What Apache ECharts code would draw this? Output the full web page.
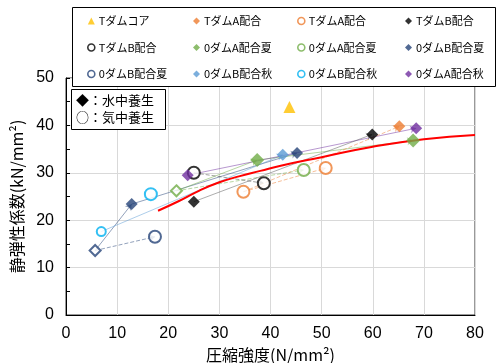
<!DOCTYPE html>
<html><head><meta charset="utf-8">
<script src="https://cdn.jsdelivr.net/npm/echarts@6/dist/echarts.min.js"></script>
<style>html,body{margin:0;padding:0;background:#fff}#chart{width:501px;height:363px}</style>
</head><body><div id="chart"></div>
<script>
// Compressive strength (N/mm2) vs. static modulus of elasticity (kN/mm2)
const xTicks = [0, 10, 20, 30, 40, 50, 60, 70, 80];
const yTicks = [0, 10, 20, 30, 40, 50];

// [compressive strength, static modulus]
const tCore        = [[43.7, 43.9]];
const tA_water     = [[65.2, 39.8]];
const tA_air       = [[34.7, 26.0], [50.8, 31.0]];
const tB_water     = [[25.0, 23.9], [59.9, 38.1]];
const tB_air       = [[25.0, 30.0], [38.7, 27.8]];
const oA_sum_water = [[37.4, 32.7], [67.9, 36.8]];
const oA_sum_air   = [[46.5, 30.6]];
const oA_sum_early = [[21.6, 26.2]];
const oB_sum_water = [[12.85, 23.4], [45.2, 34.2]];
const oB_sum_air   = [[17.4, 16.5]];
const oB_sum_early = [[5.7, 13.6]];
const oB_aut_water = [[42.4, 33.8]];
const oB_aut_air   = [[16.6, 25.5]];
const oB_aut_early = [[6.9, 17.6]];
const oA_aut_water = [[23.8, 29.5], [68.5, 39.4]];

// design curve
const curveX = [18, 22, 26, 30, 34, 38, 42, 50, 60, 70, 80];
const curveY = [22.0, 24.0, 26.2, 28.0, 29.3, 30.4, 31.5, 33.3, 35.5, 37.1, 38.0];

const C = {
  gold: '#FFC000', orange: '#ED7D31', black: '#000000', green: '#70AD47',
  navy: '#264478', sky: '#5B9BD5', cyan: '#00B0F0', purple: '#7030A0'
};

const FONT_JP = "'Noto Sans CJK JP', sans-serif";
const FONT_NUM = "'Liberation Sans Narrow', 'Liberation Sans', sans-serif";

// legend series (name#key keeps duplicate labels distinct)
const specs = [
  { name: 'Tダムコア#c',     data: tCore,        kind: 'tri',  color: C.gold },
  { name: 'TダムA配合#w',    data: tA_water,     kind: 'dia',  color: C.orange },
  { name: 'TダムA配合#a',    data: tA_air,       kind: 'circ', color: C.orange },
  { name: 'TダムB配合#w',    data: tB_water,     kind: 'dia',  color: C.black },
  { name: 'TダムB配合#a',    data: tB_air,       kind: 'circ', color: C.black },
  { name: '0ダムA配合夏#w',  data: oA_sum_water, kind: 'dia',  color: C.green, size: 14 },
  { name: '0ダムA配合夏#a',  data: oA_sum_air,   kind: 'circ', color: C.green },
  { name: '0ダムB配合夏#w',  data: oB_sum_water, kind: 'dia',  color: C.navy },
  { name: '0ダムB配合夏#a',  data: oB_sum_air,   kind: 'circ', color: C.navy },
  { name: '0ダムB配合秋#w',  data: oB_aut_water, kind: 'dia',  color: C.sky },
  { name: '0ダムB配合秋#a',  data: oB_aut_air,   kind: 'circ', color: C.cyan },
  { name: '0ダムA配合秋#w',  data: oA_aut_water, kind: 'dia',  color: C.purple }
];
// early-age points (not listed in the legend)
const earlySpecs = [
  { name: 'e1', data: oA_sum_early, symbol: 'diamond', size: 11, color: C.green },
  { name: 'e2', data: oB_sum_early, symbol: 'diamond', size: 11, color: C.navy },
  { name: 'e3', data: oB_aut_early, symbol: 'circle',  size: 9,  color: C.cyan }
];

// arrows: [from array, index, to array, index, colour, dotted]
const arrows = [
  [oB_sum_early, 0, oB_sum_water, 0, C.navy, false],
  [oB_sum_early, 0, oB_sum_air, 0, C.navy, true],
  [oB_sum_water, 0, oB_sum_water, 1, C.navy, false],
  [oB_aut_early, 0, oB_aut_water, 0, C.sky, false],
  [oA_sum_early, 0, oA_sum_water, 0, C.green, false],
  [oA_sum_water, 0, oA_sum_water, 1, C.green, false],
  [oA_sum_early, 0, oA_sum_air, 0, C.green, true],
  [oA_aut_water, 0, oA_aut_water, 1, C.purple, false],
  [tB_air, 0, tB_air, 1, '#404040', true],
  [tB_water, 0, tB_water, 1, '#595959', false],
  [tA_air, 0, tA_air, 1, C.orange, true],
  [tA_air, 0, tA_water, 0, C.orange, true]
];

const series = [];
series.push({
  type: 'lines', coordinateSystem: 'cartesian2d', z: 1, silent: true,
  symbol: ['none', 'arrow'], symbolSize: 6,
  data: arrows.map(a => ({
    coords: [a[0][a[1]], a[2][a[3]]],
    lineStyle: { color: a[4], width: 1, opacity: 0.5, type: a[5] ? 'dashed' : 'solid' }
  }))
});
series.push({
  type: 'line', name: 'curve', z: 3, silent: true, smooth: true, showSymbol: false,
  data: curveX.map((x, i) => [x, curveY[i]]),
  lineStyle: { color: '#FF0000', width: 2 }
});
specs.forEach(s => {
  const base = { type: 'scatter', name: s.name, data: s.data, z: 4 };
  if (s.kind === 'tri') {
    Object.assign(base, { symbol: 'triangle', symbolSize: 12, itemStyle: { color: s.color } });
  } else if (s.kind === 'dia') {
    Object.assign(base, { symbol: 'diamond', symbolSize: s.size || 12, itemStyle: { color: s.color } });
  } else {
    Object.assign(base, { symbol: 'circle', symbolSize: 12,
      itemStyle: { color: '#fff', borderColor: s.color, borderWidth: 2 } });
  }
  series.push(base);
});
earlySpecs.forEach(s => series.push({
  type: 'scatter', name: s.name, data: s.data, z: 4, symbol: s.symbol, symbolSize: s.size,
  itemStyle: { color: '#fff', borderColor: s.color, borderWidth: 2 }
}));

function legendItem(s) {
  if (s.kind === 'tri') return { name: s.name, icon: 'triangle', itemStyle: { color: s.color } };
  if (s.kind === 'dia') return { name: s.name, icon: 'diamond', itemStyle: { color: s.color } };
  return { name: s.name, icon: 'circle', itemStyle: { color: '#fff', borderColor: s.color, borderWidth: 1.6 } };
}
const colLeft = [87, 193, 297, 405];
const legends = colLeft.map((left, c) => ({
  orient: 'vertical', left: left, top: 14, padding: 0, z: 110,
  itemWidth: 7, itemHeight: 7, itemGap: 12.5, selectedMode: false,
  textStyle: { fontSize: 11, lineHeight: 14, color: '#000', fontFamily: FONT_JP, padding: [0, 0, 0, -1] },
  formatter: n => n.split('#')[0],
  data: [specs[c], specs[c + 4], specs[c + 8]].map(legendItem)
}));

const option = {
  animation: false,
  backgroundColor: '#fff',
  grid: { left: 66, right: 26, top: 78, bottom: 48, outerBoundsMode: 'none',
    show: true, borderColor: '#333', borderWidth: 1, backgroundColor: 'transparent' },
  xAxis: {
    type: 'value', min: xTicks[0], max: xTicks[xTicks.length - 1], interval: xTicks[1] - xTicks[0],
    name: '圧縮強度(N/mm²)', nameLocation: 'middle', nameGap: 28,
    nameTextStyle: { fontSize: 16, color: '#000', fontFamily: FONT_JP },
    axisLine: { lineStyle: { color: '#000', width: 1 } },
    axisTick: { show: false },
    axisLabel: { fontSize: 16, color: '#000', fontFamily: FONT_NUM, margin: 11 },
    splitLine: { lineStyle: { color: '#d9d9d9', width: 1 } }
  },
  yAxis: {
    type: 'value', min: yTicks[0], max: yTicks[yTicks.length - 1], interval: yTicks[1] - yTicks[0],
    name: '静弾性係数(kN/mm²)', nameLocation: 'middle', nameGap: 40,
    nameTextStyle: { fontSize: 16, color: '#000', fontFamily: FONT_JP },
    axisLine: { show: true, lineStyle: { color: '#000', width: 1 } },
    axisTick: { show: true, inside: true, length: 4, lineStyle: { color: '#000' } },
    minorTick: { show: true, splitNumber: 2, length: 4, lineStyle: { color: '#000' } },
    axisLabel: { fontSize: 16, color: '#000', fontFamily: FONT_NUM, margin: 12 },
    splitLine: { lineStyle: { color: '#d9d9d9', width: 1 } }
  },
  legend: legends,
  graphic: [
    { type: 'rect', z: 100, silent: true,
      shape: { x: 72.5, y: 7.5, width: 423, height: 79 },
      style: { fill: '#fff', stroke: '#000', lineWidth: 1 } },
    { type: 'rect', z: 100, silent: true,
      shape: { x: 71.5, y: 89.5, width: 94, height: 40 },
      style: { fill: '#fff', stroke: '#000', lineWidth: 1 } },
    { type: 'text', z: 101, silent: true, left: 76, top: 94,
      style: { text: '◆：水中養生', fontSize: 13, fontFamily: FONT_JP, fill: '#000' } },
    { type: 'text', z: 101, silent: true, left: 76, top: 111,
      style: { text: '○：気中養生', fontSize: 13, fontFamily: FONT_JP, fill: '#000' } }
  ],
  series: series
};

const chart = echarts.init(document.getElementById('chart'), null, { renderer: 'canvas' });
chart.setOption(option);
</script>
</body></html>
